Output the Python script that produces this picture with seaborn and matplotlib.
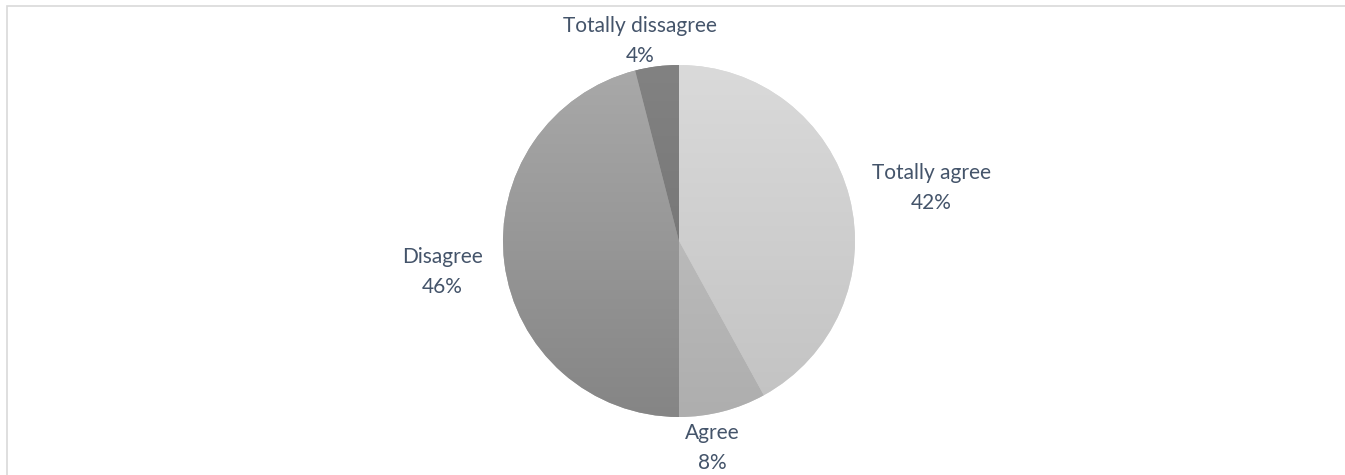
import numpy as np
import matplotlib
matplotlib.use("Agg")
import matplotlib.pyplot as plt
import seaborn as sns
from matplotlib.colors import LinearSegmentedColormap
from matplotlib.patches import Rectangle

# Survey answers, clockwise from 12 o'clock
categories = ["Totally agree", "Agree", "Disagree", "Totally dissagree"]
shares = [42, 8, 46, 4]

# Slice shading: (top colour, bottom colour) of each vertical gradient
shades = [("#dadada", "#c2c2c2"),
          ("#c6c6c6", "#aeaeae"),
          ("#a9a9a9", "#858585"),
          ("#828282", "#6e6e6e")]

# Label centres in pixels (x from left, y from top)
label_xy = [(931, 188), (712, 448), (442, 272), (640, 41)]

sns.set_theme(style="white")
plt.rcParams["font.family"] = ["Lato", "DejaVu Sans"]

W, H = 1345, 475
fig = plt.figure(figsize=(W / 100, H / 100), dpi=100)
fig.patch.set_facecolor("white")
ax = fig.add_axes([0, 0, 1, 1])

cx, cy, r = 679, H - 241, 176
wedges, _ = ax.pie(shares, startangle=90, counterclock=False,
                   center=(cx, cy), radius=r, frame=True,
                   colors=[s[0] for s in shades],
                   wedgeprops=dict(linewidth=0))

grad = np.linspace(0, 1, 256).reshape(-1, 1)
for w, (top, bottom) in zip(wedges, shades):
    cmap = LinearSegmentedColormap.from_list("shade", [bottom, top])
    im = ax.imshow(grad, extent=(cx - r, cx + r, cy - r, cy + r),
                   origin="lower", cmap=cmap, aspect="auto",
                   interpolation="bilinear", zorder=w.get_zorder() + 0.1)
    im.set_clip_path(w)

total = sum(shares)
for cat, val, (lx, ly) in zip(categories, shares, label_xy):
    ax.text(lx, H - ly, f"{cat}\n{round(100 * val / total)}%",
            ha="center", va="center", multialignment="center",
            fontsize=15, color="#44546A", linespacing=1.58)

ax.set_xlim(0, W)
ax.set_ylim(0, H)
ax.set_axis_off()

# Chart-area outline (runs past the right and bottom edges)
fig.patches.append(Rectangle((7 / W, -0.1), 1.2, (H - 6) / H + 0.1,
                             transform=fig.transFigure, fill=False,
                             edgecolor="#d9d9d9", linewidth=1.2))

fig.savefig("out.png", dpi=100, facecolor="white")
